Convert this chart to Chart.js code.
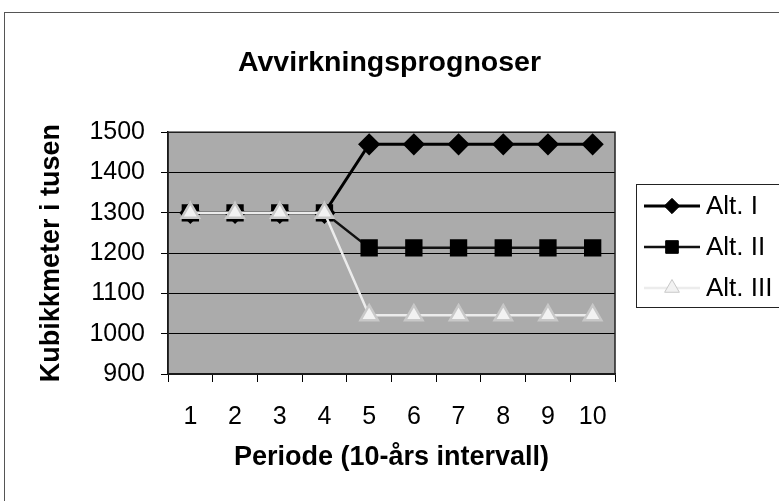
<!DOCTYPE html>
<html>
<head>
<meta charset="utf-8">
<script src="https://cdn.jsdelivr.net/npm/chart.js@4.4.0/dist/chart.umd.min.js"></script>
<style>
  html, body { margin: 0; padding: 0; background: #fff; }
  #wrap { width: 779px; height: 501px; }
</style>
</head>
<body>
<div id="wrap"><canvas id="prognoseChart"></canvas></div>
<script>
const perioder = ['1', '2', '3', '4', '5', '6', '7', '8', '9', '10'];
const altI = [1300, 1300, 1300, 1300, 1470, 1470, 1470, 1470, 1470, 1470];
const altII = [1300, 1300, 1300, 1300, 1213, 1213, 1213, 1213, 1213, 1213];
const altIII = [1300, 1300, 1300, 1300, 1046, 1046, 1046, 1046, 1046, 1046];
const seriesNames = ['Alt. I', 'Alt. II', 'Alt. III'];

const fontFamily = "'Liberation Sans', Arial, sans-serif";

// grey plot background, border round plot and whole chart
const frame = {
    id: 'frame',
    beforeDraw(chart) {
        const { ctx, chartArea: a } = chart;
        ctx.save();
        ctx.fillStyle = '#fff';
        ctx.fillRect(0, 0, chart.width, chart.height);
        ctx.strokeStyle = '#555';
        ctx.lineWidth = 1;
        ctx.strokeRect(4.5, 12.5, chart.width + 10, chart.height + 10);
        ctx.fillStyle = '#ababab';
        ctx.fillRect(a.left, a.top, a.right - a.left, a.bottom - a.top);
        ctx.restore();
    },
    afterDraw(chart) {
        const { ctx, chartArea: a } = chart;
        ctx.save();
        ctx.strokeStyle = '#222';
        ctx.lineWidth = 1.5;
        ctx.strokeRect(a.left, a.top, a.right - a.left, a.bottom - a.top);
        ctx.restore();
    }
};

// legend box with line + marker like the original
const sideLegend = {
    id: 'sideLegend',
    afterDraw(chart) {
        const { ctx } = chart;
        ctx.save();
        ctx.fillStyle = '#fff';
        ctx.fillRect(636, 184, 160, 123);
        ctx.strokeStyle = '#222';
        ctx.lineWidth = 1;
        ctx.strokeRect(636.5, 184.5, 160, 123);
        chart.data.datasets.forEach((ds, i) => {
            const y = 206 + i * 41;
            ctx.strokeStyle = ds.borderColor;
            ctx.lineWidth = ds.borderWidth;
            ctx.beginPath();
            ctx.moveTo(644, y);
            ctx.lineTo(700, y);
            ctx.stroke();
            ctx.fillStyle = ds.pointBackgroundColor;
            ctx.strokeStyle = ds.pointBorderColor;
            ctx.lineWidth = 1;
            Chart.helpers.drawPoint(ctx, {
                pointStyle: ds.pointStyle,
                radius: ds.pointRadius * 0.85,
                rotation: 0,
                borderWidth: 1
            }, 672, y);
            ctx.fillStyle = '#000';
            ctx.font = '26px ' + fontFamily;
            ctx.textBaseline = 'middle';
            ctx.textAlign = 'left';
            ctx.fillText(ds.label, 706, y + 1);
        });
        ctx.restore();
    }
};

new Chart(document.getElementById('prognoseChart'), {
    type: 'line',
    data: {
        labels: perioder,
        datasets: [{
            label: seriesNames[0],
            data: altI,
            borderColor: '#000',
            borderWidth: 3,
            pointStyle: 'rectRot',
            pointRadius: 9,
            pointBackgroundColor: '#000',
            pointBorderColor: '#000',
            order: 1
        }, {
            label: seriesNames[1],
            data: altII,
            borderColor: '#111',
            borderWidth: 2.5,
            pointStyle: 'rect',
            pointRadius: 10.5,
            pointBackgroundColor: '#000',
            pointBorderColor: '#000',
            order: 2
        }, {
            label: seriesNames[2],
            data: altIII,
            borderColor: '#ececec',
            borderWidth: 2.5,
            pointStyle: 'triangle',
            pointRadius: 10,
            pointBackgroundColor: '#f2f2f2',
            pointBorderColor: '#c8c8c8',
            order: 0
        }]
    },
    options: {
        responsive: true,
        maintainAspectRatio: false,
        animation: false,
        scales: {
            x: {
                offset: true,
                afterFit(scale) { scale.height = 127; },
                grid: {
                    offset: true,
                    drawOnChartArea: false,
                    drawTicks: true,
                    tickLength: 8,
                    color: '#000'
                },
                border: { display: true, color: '#000', width: 1.5 },
                ticks: {
                    color: '#000',
                    padding: 20,
                    maxRotation: 0,
                    font: { family: fontFamily, size: 25 }
                },
                title: {
                    display: true,
                    text: 'Periode (10-års intervall)',
                    color: '#000',
                    padding: { top: 0, bottom: 27 },
                    font: { family: fontFamily, size: 27, weight: 'bold' }
                }
            },
            y: {
                min: 900,
                max: 1500,
                afterFit(scale) { scale.width = 168; },
                grid: {
                    color: '#000',
                    lineWidth: 1,
                    drawTicks: true,
                    tickLength: 7
                },
                border: { display: true, color: '#000', width: 1.5 },
                ticks: {
                    stepSize: 100,
                    color: '#000',
                    padding: 16,
                    font: { family: fontFamily, size: 25 },
                    callback: v => String(v)
                },
                title: {
                    display: true,
                    text: 'Kubikkmeter i tusen',
                    color: '#000',
                    padding: { top: 35, bottom: 0 },
                    font: { family: fontFamily, size: 27, weight: 'bold' }
                }
            },
            // empty right axis only to reserve room for the legend
            yRight: {
                position: 'right',
                min: 900,
                max: 1500,
                afterFit(scale) { scale.width = 164; },
                grid: { drawOnChartArea: false, drawTicks: false },
                border: { display: false },
                ticks: { display: false }
            }
        },
        plugins: {
            legend: { display: false },
            tooltip: { enabled: false },
            title: {
                display: true,
                text: 'Avvirkningsprognoser',
                color: '#000',
                padding: { top: 46, bottom: 52 },
                font: { family: fontFamily, size: 28.5, weight: 'bold' }
            }
        }
    },
    plugins: [frame, sideLegend]
});
</script>
</body>
</html>
